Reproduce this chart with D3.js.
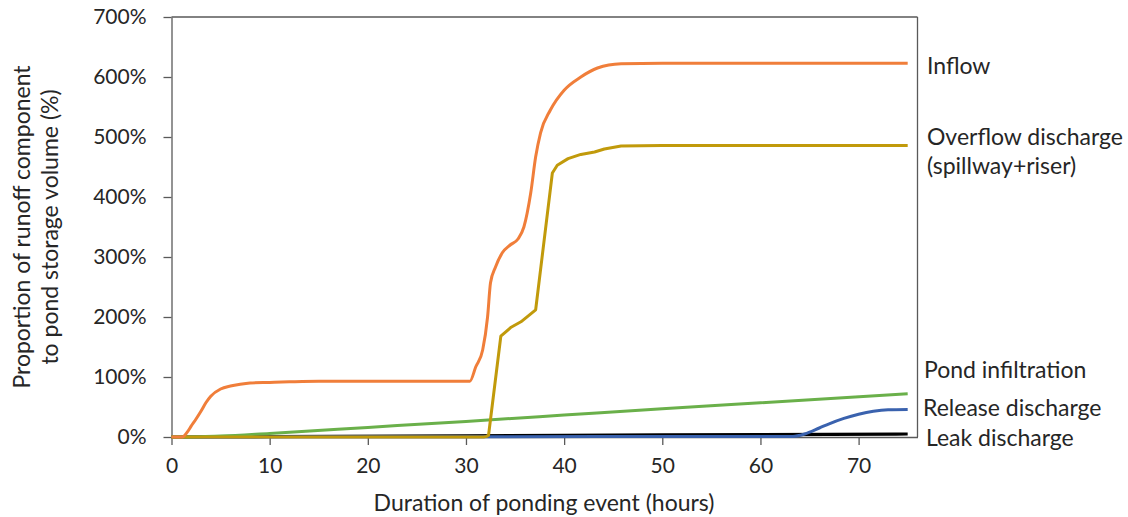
<!DOCTYPE html>
<html>
<head>
<meta charset="utf-8">
<script src="https://cdn.jsdelivr.net/npm/d3@7"></script>
<style>
  html, body { margin: 0; padding: 0; background: #fff; }
  svg { display: block; font-family: Lato, "Open Sans", sans-serif; }
</style>
</head>
<body>
<svg id="chart"></svg>
<script>
// values (hours, percent of pond storage volume)
const inflowHours = [0, 1.1, 1.6, 2, 2.5, 3, 3.5, 4, 5, 6, 7, 8, 10, 12, 15, 20, 25, 30.4, 31, 31.7, 32.2, 32.5, 33, 33.7, 34.5, 35.3, 35.9, 36.6, 37.1, 37.6, 38.6, 40, 41.7, 43.4, 45.8, 50, 60, 75];
const inflowValues = [0, 0, 8, 18, 30, 43, 57, 68, 80, 85, 88, 90, 91, 92, 93, 93, 93, 93, 117, 145, 200, 257, 283, 307, 320, 330, 350, 407, 467, 507, 545, 578, 600, 615, 622, 623, 623, 623];

const overflowHours = [0, 31.8, 32.1, 32.3, 33.55, 34.6, 35.6, 37.1, 38.8, 39.3, 40.4, 41.7, 43.1, 44.1, 45.8, 50, 75];
const overflowValues = [0, 0, 1, 3, 168, 183, 192, 212, 440, 453, 464, 471, 475, 480, 485, 486, 486];

const infiltrationHours = [0, 3, 5, 10, 20, 30, 40, 50, 60, 75];
const infiltrationValues = [0, 0.5, 1.5, 6, 16, 26, 36.5, 47, 57, 72];

const releaseHours = [0, 30, 63.3, 64.5, 66, 67, 68.5, 70, 71.5, 73, 75];
const releaseValues = [0, 0.5, 1, 5, 15, 22, 31, 38, 43, 45.5, 46];

const leakHours = [0, 10, 30, 50, 75];
const leakValues = [0, 0.8, 2, 3.5, 5];

const yTicks = [0, 100, 200, 300, 400, 500, 600, 700];
const xTicks = [0, 10, 20, 30, 40, 50, 60, 70];

const seriesNames = ["Inflow", "Overflow discharge", "Pond infiltration", "Release discharge", "Leak discharge"];

const width = 1128;
const height = 517;

const x = d3.scaleLinear().domain([0, 76]).range([171.5, 917.5]);
const y = d3.scaleLinear().domain([0, 700]).range([437, 17]);

const svg = d3.select("#chart")
    .attr("width", width)
    .attr("height", height);

const axisColor = "#595959";

// frame: top and right border lines
svg.append("line")
    .attr("x1", x(0)).attr("x2", x(76))
    .attr("y1", y(700)).attr("y2", y(700))
    .attr("stroke", axisColor).attr("stroke-width", 1.3);
svg.append("line")
    .attr("x1", x(76)).attr("x2", x(76))
    .attr("y1", y(700)).attr("y2", y(0))
    .attr("stroke", axisColor).attr("stroke-width", 1.3);

const yAxis = svg.append("g")
    .attr("transform", `translate(${x(0)},0)`)
    .call(d3.axisLeft(y).tickValues(yTicks).tickFormat(d => d + "%").tickSize(8).tickSizeOuter(0).tickPadding(17));

const xAxis = svg.append("g")
    .attr("transform", `translate(0,${y(0)})`)
    .call(d3.axisBottom(x).tickValues(xTicks).tickSize(8).tickSizeOuter(0).tickPadding(13));

[yAxis, xAxis].forEach(g => {
    g.select(".domain").attr("stroke", axisColor).attr("stroke-width", 1.3);
    g.selectAll(".tick line").attr("stroke", axisColor).attr("stroke-width", 1.3);
    g.selectAll(".tick text")
        .attr("fill", "#262626")
        .style("font-size", "21px")
        .style("font-family", "Lato, sans-serif");
});

function zip(hs, vs) {
    return hs.map((h, i) => ({ h: h, v: vs[i] }));
}

const smooth = d3.line().x(d => x(d.h)).y(d => y(d.v)).curve(d3.curveMonotoneX);
const sharp = d3.line().x(d => x(d.h)).y(d => y(d.v));

const series = [
    { data: zip(leakHours, leakValues), color: "#000000", width: 3.2, gen: smooth },
    { data: zip(releaseHours, releaseValues), color: "#3A62AE", width: 3, gen: smooth },
    { data: zip(infiltrationHours, infiltrationValues), color: "#6AB04A", width: 3, gen: smooth },
    { data: zip(overflowHours, overflowValues), color: "#C19A0B", width: 3, gen: sharp },
    { data: zip(inflowHours, inflowValues), color: "#F07E3A", width: 3, gen: smooth },
];

svg.append("g")
    .selectAll("path")
    .data(series)
    .join("path")
    .attr("fill", "none")
    .attr("stroke", d => d.color)
    .attr("stroke-width", d => d.width)
    .attr("stroke-linejoin", "round")
    .attr("d", d => d.gen(d.data));

// series labels on the right
const labels = [
    { lines: [seriesNames[0]], x: 927, y: 66 },
    { lines: [seriesNames[1], "(spillway+riser)"], x: 927, y: 137 },
    { lines: [seriesNames[2]], x: 924, y: 370 },
    { lines: [seriesNames[3]], x: 923, y: 408 },
    { lines: [seriesNames[4]], x: 926, y: 438 },
];

const lab = svg.append("g")
    .attr("fill", "#262626")
    .style("font-size", "23px");

labels.forEach(l => {
    l.lines.forEach((t, i) => {
        lab.append("text")
            .attr("x", l.x)
            .attr("y", l.y + i * 29)
            .attr("dy", "0.35em")
            .text(t);
    });
});

// axis titles
svg.append("text")
    .attr("x", 544)
    .attr("y", 503)
    .attr("dy", "0.35em")
    .attr("text-anchor", "middle")
    .attr("fill", "#262626")
    .style("font-size", "23px")
    .text("Duration of ponding event (hours)");

const yTitle = svg.append("g")
    .attr("transform", "translate(36,227) rotate(-90)");
["Proportion of runoff component", "to pond storage volume (%)"].forEach((t, i) => {
    yTitle.append("text")
        .attr("x", 0)
        .attr("y", -14 + i * 28)
        .attr("dy", "0.35em")
        .attr("text-anchor", "middle")
        .attr("fill", "#262626")
        .style("font-size", "23px")
        .text(t);
});
</script>
</body>
</html>
